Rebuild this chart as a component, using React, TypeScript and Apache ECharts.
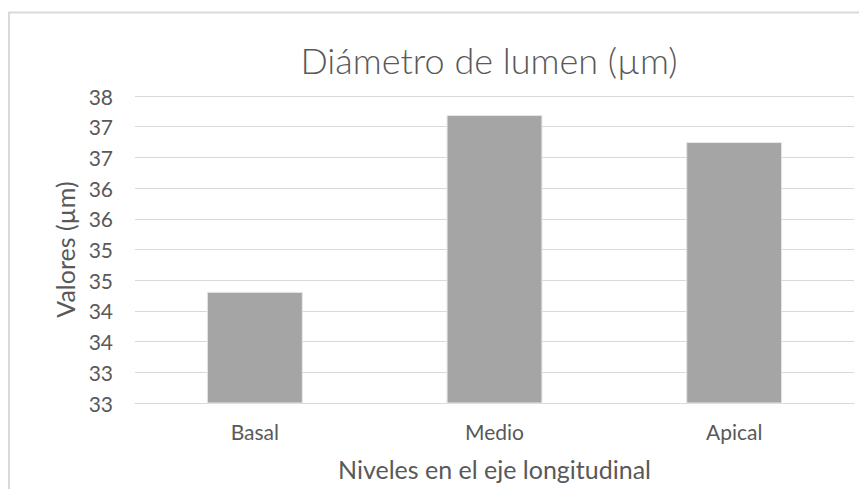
import React, { useEffect, useRef } from "react";
import * as echarts from "echarts";

const chartTitle = "Diámetro de lumen (µm)";
const xAxisTitle = "Niveles en el eje longitudinal";
const yAxisTitle = "Valores (µm)";
const categories = ["Basal", "Medio", "Apical"];
const values = [34.31, 37.19, 36.75];
const yMin = 32.5;
const yMax = 37.5;
const yStep = 0.5;

const FONT = "Lato, 'Open Sans', sans-serif";
const TEXT = "#595959";

export default function App() {
  const ref = useRef<HTMLDivElement>(null);
  useEffect(() => {
    if (!ref.current) return;
    const chart = echarts.init(ref.current, null, { renderer: "svg" });
    chart.setOption({
      animation: false,
      backgroundColor: "#ffffff",
      graphic: [
        {
          type: "rect",
          shape: { x: 9, y: 12.5, width: 900, height: 600 },
          style: { fill: "none", stroke: "#d9d9d9", lineWidth: 2 },
          silent: true,
          z: -1,
        },
      ],
      title: {
        text: chartTitle,
        left: 484,
        top: 37,
        textAlign: "center",
        textStyle: { fontFamily: FONT, fontSize: 36, fontWeight: 300, color: TEXT },
      },
      grid: { left: 135, right: 13, top: 96, bottom: 94, containLabel: false },
      xAxis: {
        type: "category",
        data: categories,
        name: xAxisTitle,
        nameLocation: "middle",
        nameGap: 53,
        nameTextStyle: { fontFamily: FONT, fontSize: 25, color: TEXT },
        axisLine: { lineStyle: { color: "#d9d9d9", width: 1 } },
        axisTick: { show: false },
        axisLabel: { fontFamily: FONT, fontSize: 21, color: TEXT, margin: 18 },
      },
      yAxis: {
        type: "value",
        min: yMin,
        max: yMax,
        interval: yStep,
        name: yAxisTitle,
        nameLocation: "middle",
        nameGap: 54,
        nameRotate: 90,
        nameTextStyle: { fontFamily: FONT, fontSize: 25, color: TEXT },
        axisLine: { show: false },
        axisTick: { show: false },
        splitLine: { lineStyle: { color: "#d9d9d9", width: 1 } },
        axisLabel: {
          fontFamily: FONT,
          fontSize: 21,
          color: TEXT,
          margin: 22,
          formatter: (v: number) => String(Math.round(v)),
        },
      },
      series: [
        {
          type: "bar",
          data: values,
          barWidth: "40%",
          itemStyle: { color: "#a5a5a5", borderColor: "#e6e6e6", borderWidth: 1 },
        },
      ],
    });
    return () => chart.dispose();
  }, []);
  return <div ref={ref} style={{ width: 867, height: 497, margin: -8 }} />;
}
